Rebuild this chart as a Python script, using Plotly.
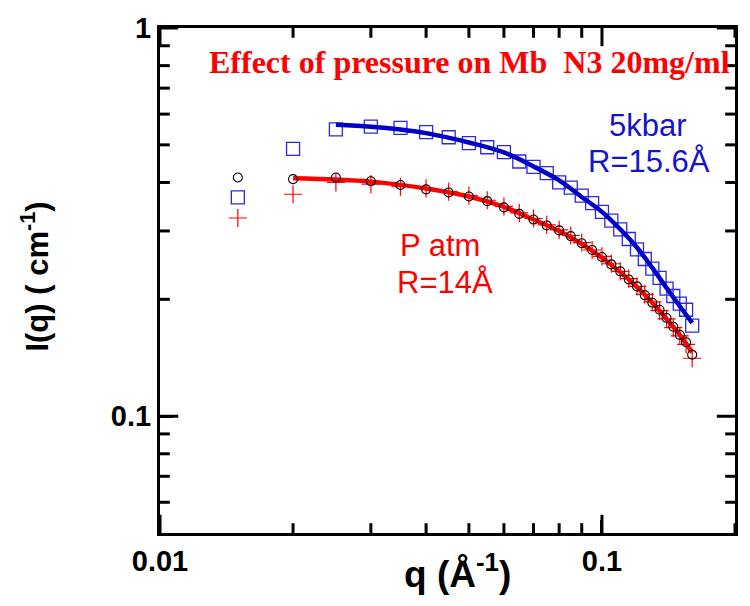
import plotly.graph_objects as go

# scattering vector q (1/Angstrom) for the measured points
q_data = [0.015, 0.02, 0.025, 0.03, 0.035, 0.04, 0.045, 0.05, 0.055, 0.06,
          0.065, 0.07, 0.075, 0.08, 0.085, 0.09, 0.095, 0.1, 0.105, 0.11,
          0.115, 0.12, 0.125, 0.13, 0.135, 0.14, 0.145, 0.15, 0.155, 0.16]

# atmospheric pressure, first run (open circles)
i_atm_a = [0.412, 0.408, 0.412, 0.403, 0.394, 0.384, 0.377, 0.368, 0.358, 0.345,
           0.332, 0.321, 0.310, 0.301, 0.291, 0.279, 0.268, 0.257, 0.246, 0.236,
           0.225, 0.216, 0.205, 0.196, 0.188, 0.179, 0.170, 0.162, 0.155, 0.144]

# atmospheric pressure, second run (crosses)
i_atm_b = [0.324, 0.373, 0.400, 0.396, 0.390, 0.386, 0.379, 0.370, 0.360, 0.347,
           0.334, 0.323, 0.311, 0.302, 0.292, 0.280, 0.268, 0.258, 0.247, 0.236,
           0.226, 0.216, 0.206, 0.197, 0.187, 0.178, 0.169, 0.161, 0.153, 0.141]

# 5 kbar (open squares)
i_5kbar = [0.366, 0.488, 0.548, 0.557, 0.553, 0.539, 0.523, 0.505, 0.493, 0.479,
           0.453, 0.439, 0.423, 0.400, 0.388, 0.370, 0.354, 0.336, 0.319, 0.303,
           0.286, 0.269, 0.254, 0.240, 0.227, 0.213, 0.204, 0.195, 0.188, 0.171]

# fitted curves
q_fit_atm = [0.02, 0.03, 0.04, 0.05, 0.06, 0.07, 0.08, 0.09, 0.1, 0.11,
             0.12, 0.13, 0.14, 0.15, 0.16]
i_fit_atm = [0.410, 0.402, 0.386, 0.368, 0.346, 0.321, 0.300, 0.278, 0.256, 0.235,
             0.215, 0.196, 0.178, 0.162, 0.146]

q_fit_5kbar = [0.025, 0.03, 0.035, 0.04, 0.05, 0.06, 0.07, 0.08, 0.09, 0.1,
               0.11, 0.12, 0.13, 0.14, 0.15, 0.16]
i_fit_5kbar = [0.563, 0.557, 0.548, 0.536, 0.507, 0.478, 0.440, 0.405, 0.367, 0.336,
               0.303, 0.272, 0.241, 0.214, 0.192, 0.174]

# axis ticks
x_major = [0.01, 0.1]
x_major_text = ["0.01", "0.1"]
x_minor = [0.02, 0.03, 0.04, 0.05, 0.06, 0.07, 0.08, 0.09, 0.2]
y_major = [0.1, 1]
y_major_text = ["0.1", "1"]
y_minor = [0.06, 0.07, 0.08, 0.09, 0.2, 0.3, 0.4, 0.5, 0.6, 0.7, 0.8, 0.9]

X_RANGE = [-2, -0.699]
Y_RANGE = [-1.301, 0]
MAJOR_LEN = 13
MINOR_LEN = 7

RED = "#ff0000"
BLUE = "#0000c8"
SANS = "Liberation Sans, Arial, sans-serif"
SERIF = "Liberation Serif, Times New Roman, serif"

fig = go.Figure()

fig.add_trace(go.Scatter(
    x=q_data, y=i_5kbar, mode="markers", name="5kbar",
    marker=dict(symbol="square-open", size=13, color="#2a2ae6",
                line=dict(width=1.3, color="#2a2ae6"))))
fig.add_trace(go.Scatter(
    x=q_fit_5kbar, y=i_fit_5kbar, mode="lines", name="fit 5kbar",
    line=dict(color=BLUE, width=4.5, shape="spline")))

fig.add_trace(go.Scatter(
    x=q_data, y=i_atm_b, mode="markers", name="P atm (2)",
    marker=dict(symbol="cross-thin-open", size=13, color=RED,
                line=dict(width=1.2, color=RED))))
fig.add_trace(go.Scatter(
    x=q_fit_atm, y=i_fit_atm, mode="lines", name="fit P atm",
    line=dict(color=RED, width=4.5, shape="spline")))
fig.add_trace(go.Scatter(
    x=q_data, y=i_atm_a, mode="markers", name="P atm (1)",
    marker=dict(symbol="circle-open", size=9, color="black",
                line=dict(width=1.1, color="black"))))

# Inward tick marks on all four sides of the frame: line markers centred on the
# frame edges; the half that falls outside the plot area is clipped away.
x_lo, x_hi = 10 ** X_RANGE[0], 10 ** X_RANGE[1]
y_lo, y_hi = 10 ** Y_RANGE[0], 10 ** Y_RANGE[1]


def edge_ticks(vals, length, horizontal_axis):
    if horizontal_axis:
        xs = vals + vals
        ys = [y_lo] * len(vals) + [y_hi] * len(vals)
        symbol = "line-ns"
    else:
        xs = [x_lo] * len(vals) + [x_hi] * len(vals)
        ys = vals + vals
        symbol = "line-ew"
    return go.Scatter(
        x=xs, y=ys, mode="markers", hoverinfo="skip", showlegend=False,
        cliponaxis=True,
        marker=dict(symbol=symbol, size=2 * length, color="black",
                    line=dict(width=3, color="black")))


fig.add_trace(edge_ticks(x_major, MAJOR_LEN, True))
fig.add_trace(edge_ticks(x_minor, MINOR_LEN, True))
fig.add_trace(edge_ticks(y_major, MAJOR_LEN, False))
fig.add_trace(edge_ticks(y_minor, MINOR_LEN, False))

tick_font = dict(family=SANS, size=29, color="black")

fig.update_layout(
    xaxis=dict(type="log", range=X_RANGE, showgrid=False, zeroline=False,
               showline=True, linecolor="black", linewidth=3, mirror=True,
               ticks="inside", ticklen=MAJOR_LEN, tickwidth=3, tickcolor="black",
               tickfont=tick_font, tickmode="array",
               tickvals=x_major, ticktext=["<b>%s</b>" % t for t in x_major_text]),
    yaxis=dict(type="log", range=Y_RANGE, showgrid=False, zeroline=False,
               showline=True, linecolor="black", linewidth=3, mirror=True,
               ticks="inside", ticklen=MAJOR_LEN, tickwidth=3, tickcolor="black",
               tickfont=tick_font, tickmode="array",
               tickvals=y_major, ticktext=["<b>%s</b>" % t for t in y_major_text]),
)


def px_x(px):
    return (px - 160) / 575


def px_y(py):
    return (533 - py) / 514


annotations = [
    dict(text="<b>q (Å<sup>-1</sup>)</b>", x=px_x(457), y=px_y(572),
         font=dict(family=SANS, size=37, color="black")),
    dict(text="<b>I(q) ( cm<sup>-1</sup>)</b>", x=px_x(35), y=px_y(272), textangle=-90,
         font=dict(family=SANS, size=31, color="black")),
    dict(text="<b>Effect of pressure on Mb\u00a0 N3 20mg/ml</b>", x=px_x(469.5), y=px_y(54),
         font=dict(family=SERIF, size=32, color=RED)),
    dict(text="5kbar", x=px_x(647.5), y=px_y(118),
         font=dict(family=SANS, size=31, color="#1414cc")),
    dict(text="R=15.6Å", x=px_x(648.5), y=px_y(155),
         font=dict(family=SANS, size=31, color="#1414cc")),
    dict(text="P atm", x=px_x(440), y=px_y(240),
         font=dict(family=SANS, size=31, color=RED)),
    dict(text="R=14Å", x=px_x(445), y=px_y(278),
         font=dict(family=SANS, size=31, color=RED)),
]
for a in annotations:
    a.update(xref="paper", yref="paper", showarrow=False,
             xanchor="center", yanchor="middle")

fig.update_layout(
    width=750, height=606,
    margin=dict(l=160, r=15, t=19, b=73),
    paper_bgcolor="white", plot_bgcolor="white",
    showlegend=False,
    annotations=annotations,
)

fig.write_html("out.html")
